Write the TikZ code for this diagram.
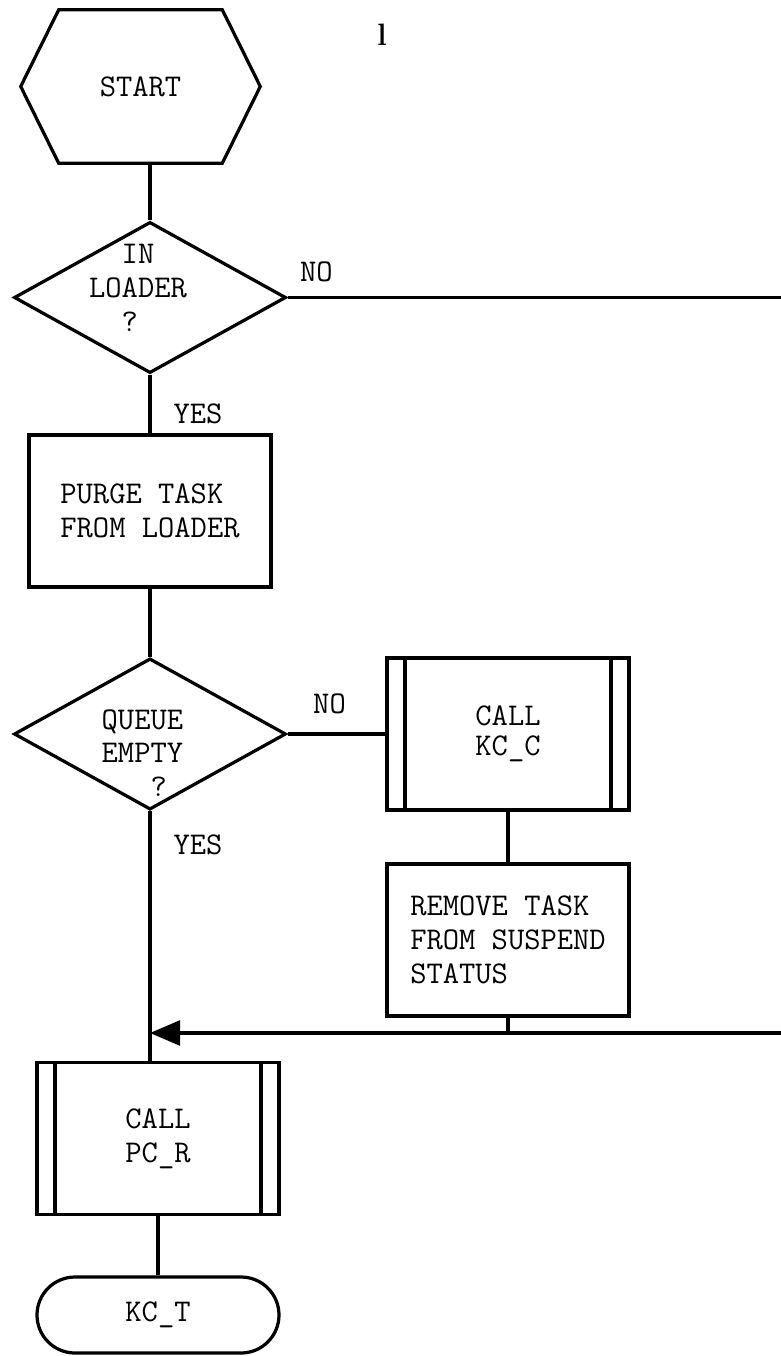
\documentclass[tikz,border=0pt]{standalone}
\usepackage{tikz}
\usetikzlibrary{arrows.meta, shapes.geometric}
\newcommand{\flowfont}{\ttfamily\fontsize{22.5}{24}\selectfont}

\begin{document}
\begin{tikzpicture}[
    flow/.style={line width=2.3pt},
    hexbox/.style={minimum width=5.975cm, minimum height=3.825cm, align=center, font=\flowfont},
    decision/.style={diamond, draw, line width=2.3pt, minimum width=6.8cm, minimum height=3.78cm, inner sep=0pt},
    box/.style={draw, line width=2.3pt, minimum width=6.05cm, minimum height=3.8cm, align=left, font=\flowfont},
    subproc/.style={box, align=center, path picture={
        \draw[line width=2.3pt] ([xshift=0.45cm]path picture bounding box.north west) -- ([xshift=0.45cm]path picture bounding box.south west)
            ([xshift=-0.45cm]path picture bounding box.north east) -- ([xshift=-0.45cm]path picture bounding box.south east);}},
    term/.style={draw, line width=2.3pt, rounded corners=0.95cm, minimum width=6.05cm, minimum height=1.9cm, font=\flowfont},
    lbl/.style={font=\flowfont, inner sep=0pt},
    arr/.style={-{Triangle[length=0.75cm, width=0.62cm]}, line width=2.3pt}
]
    \useasboundingbox (0,0) rectangle (19.525,-33.9);

    % Mark at the top
    \node[font=\fontsize{22}{22}\selectfont\bfseries] (mark) at (9.55,-0.875) {l};

    % Start
    \node[hexbox] (start) at (3.5125,-2.1625) {START};
    \draw[flow] ([xshift=0.95cm]start.north west) -- ([xshift=-0.95cm]start.north east) -- (start.east)
        -- ([xshift=-0.95cm]start.south east) -- ([xshift=0.95cm]start.south west) -- (start.west) -- cycle;

    % Decisions and steps, main column
    \node[decision, label={[lbl, align=left, xshift=-0.3cm, yshift=0.24cm]center:\hphantom{LO}IN\\LOADER\\\hphantom{LO}?}] (inldr) at (3.75,-7.4375) {};
    \node[box] (purge) at (3.75,-12.775) {PURGE TASK\\FROM LOADER};
    \node[decision, label={[lbl, align=left, xshift=-0.19cm, yshift=-0.475cm]center:QUEUE\\EMPTY\\\hphantom{EMP}?}] (queue) at (3.75,-18.35) {};
    \node[subproc] (callpcr) at (3.95,-28.4625) {CALL\\PC\_R};
    \node[term] (kct) at (3.95,-32.875) {KC\_T};

    % Side column
    \node[subproc] (callkcc) at (12.7,-18.35) {CALL\\[-3pt]KC\_C};
    \node[box] (remove) at (12.7,-23.5) {REMOVE TASK\\FROM SUSPEND\\STATUS};

    % Off-page ends
    \coordinate (noexit) at (19.525,-7.4375);
    \coordinate (reentry) at (19.525,-25.825);

    % Connectors
    \draw[flow] (start.south -| inldr.north) -- (inldr.north);
    \draw[flow] (inldr.east) node[lbl, anchor=south west, xshift=0.27cm, yshift=0.36cm] {NO} -- (noexit);
    \draw[flow] (inldr.south) node[lbl, anchor=north west, xshift=0.55cm, yshift=-0.675cm] {YES} -- (purge.north);
    \draw[flow] (purge.south) -- (queue.north);
    \draw[flow] (queue.east) node[lbl, anchor=south west, xshift=0.6cm, yshift=0.475cm] {NO} -- (callkcc.west);
    \draw[flow] (callkcc.south) -- (remove.north);
    \draw[flow] (remove.south) -- (remove.south |- reentry);
    \draw[flow] (queue.south) node[lbl, anchor=north west, xshift=0.55cm, yshift=-0.55cm] {YES} -- (queue.south |- callpcr.north);
    \draw[arr] (reentry) -- (reentry -| queue.south);
    \draw[flow] (callpcr.south) -- (kct.north);
\end{tikzpicture}
\end{document}
